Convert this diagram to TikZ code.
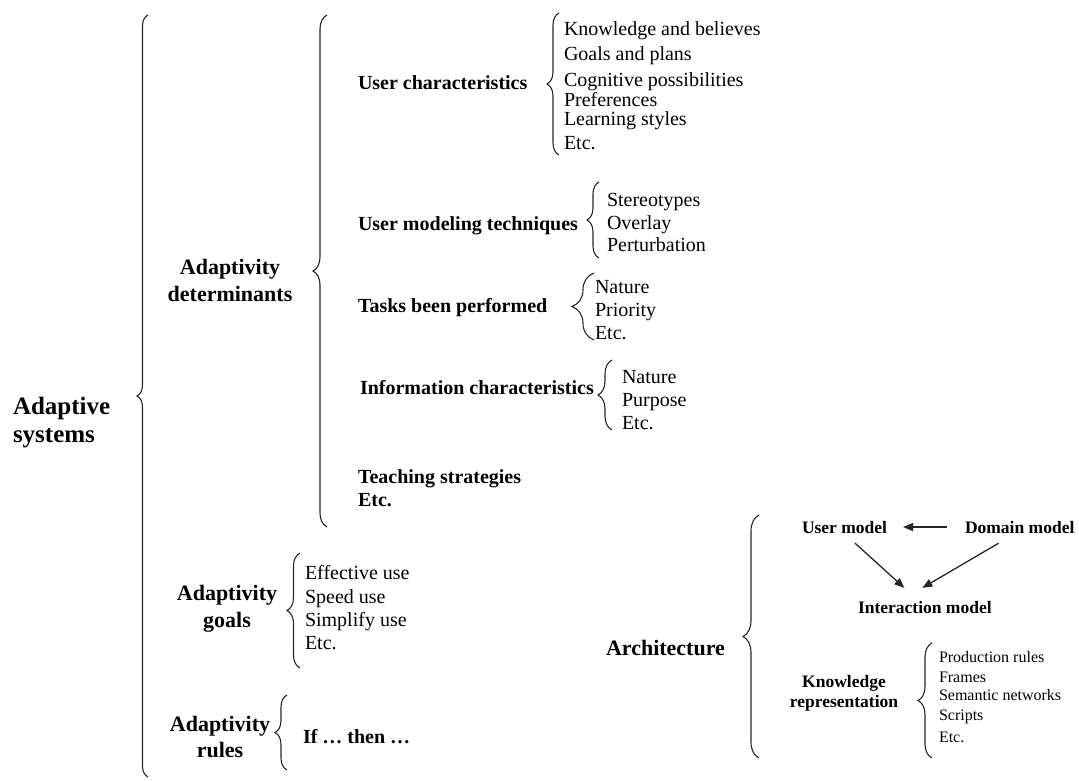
\documentclass[tikz,border=0pt]{standalone}
\usepackage{fontspec}
\setmainfont{Liberation Serif}
\usetikzlibrary{decorations.pathreplacing,arrows.meta}
\begin{document}
\begin{tikzpicture}[x=1pt,y=-1pt,
  every node/.style={inner sep=0pt, outer sep=0pt, text=black},
  item/.style={anchor=base west, font=\fontsize{20}{23}\selectfont},
  head/.style={anchor=base west, font=\fontsize{20}{23}\selectfont\bfseries},
  small/.style={anchor=base west, font=\fontsize{16}{20}\selectfont},
  archhead/.style={anchor=base west, font=\fontsize{17.5}{20}\selectfont\bfseries},
  group/.style={align=center, font=\fontsize{22}{27}\selectfont\bfseries},
  brc/.style={draw=black!85, line width=1.1pt, decorate,
    decoration={brace, amplitude=#1}},
  arr/.style={draw=black!85, line width=1.3pt,
    -{Triangle[length=10pt,width=8pt]}}
]
\useasboundingbox (0,0) rectangle (1079,780);

% root
\node[anchor=west, align=left, font=\fontsize{25}{28}\selectfont\bfseries]
  (root) at (13,423) {Adaptive\\systems};
\draw[brc=11] (148,777) -- (148,15);

% adaptivity determinants
\node[group] (det) at (230,280) {Adaptivity\\determinants};
\draw[brc=14] (327,527) -- (327,15);

\node[head] (uc) at (358,89) {User characteristics};
\draw[brc=12] (559,155) -- (559,13);
\node[item] (uc1) at (564,35) {Knowledge and believes};
\node[item] (uc2) at (564,60) {Goals and plans};
\node[item] (uc3) at (564,86) {Cognitive possibilities};
\node[item] (uc4) at (564,106) {Preferences};
\node[item] (uc5) at (564,125) {Learning styles};
\node[item] (uc6) at (564,149) {Etc.};

\node[head] (umt) at (358,230) {User modeling techniques};
\draw[brc=12] (599,258) -- (599,182);
\node[item] (umt1) at (607,206) {Stereotypes};
\node[item] (umt2) at (607,229) {Overlay};
\node[item] (umt3) at (607,251) {Perturbation};

\node[head] (tbp) at (358,312) {Tasks been performed};
\draw[brc=22] (594,340) -- (594,273);
\node[item] (tbp1) at (595,293) {Nature};
\node[item] (tbp2) at (595,316) {Priority};
\node[item] (tbp3) at (595,339) {Etc.};

\node[head] (ic) at (360,394) {Information characteristics};
\draw[brc=14] (612,430) -- (612,360);
\node[item] (ic1) at (622,383) {Nature};
\node[item] (ic2) at (622,406) {Purpose};
\node[item] (ic3) at (622,429) {Etc.};

\node[anchor=west, align=left, font=\fontsize{20}{23}\selectfont\bfseries]
  (ts) at (358,488) {Teaching strategies\\Etc.};

% adaptivity goals
\node[group] (goals) at (227,609) {Adaptivity\\goals};
\draw[brc=13] (300,668) -- (300,553);
\node[item] (g1) at (305,579) {Effective use};
\node[item] (g2) at (305,603) {Speed use};
\node[item] (g3) at (305,626) {Simplify use};
\node[item] (g4) at (305,649) {Etc.};

% adaptivity rules
\node[group, font=\fontsize{22}{26}\selectfont\bfseries] (rules) at (220,737) {Adaptivity\\rules};
\draw[brc=12] (287,770) -- (287,695);
\node[head] (ifthen) at (303,743) {If … then …};

% architecture
\node[anchor=base west, font=\fontsize{22}{26}\selectfont\bfseries]
  (arch) at (606,655) {Architecture};
\draw[brc=16] (759,758) -- (759,515);

\node[archhead] (um) at (802,533) {User model};
\node[archhead] (dm) at (965,533) {Domain model};
\node[archhead] (im) at (858,613) {Interaction model};
\draw[arr] ([xshift=-18]dm.west) -- ([xshift=16]um.east);
\draw[arr] ([shift={(10.5,10)}]um.south) -- ([shift={(-20.5,-13)}]im.north);
\draw[arr] ([shift={(-21,10)}]dm.south) -- ([shift={(-2.5,-13)}]im.north);

\node[align=center, font=\fontsize{17.5}{20}\selectfont\bfseries]
  (kr) at (844,693) {Knowledge\\representation};
\draw[brc=14] (932,758) -- (932,643);
\node[small] (kr1) at (939,662.5) {Production rules};
\node[small] (kr2) at (939,682.5) {Frames};
\node[small] (kr3) at (939,700.5) {Semantic networks};
\node[small] (kr4) at (939,720.5) {Scripts};
\node[small] (kr5) at (939,742.5) {Etc.};
\end{tikzpicture}
\end{document}
